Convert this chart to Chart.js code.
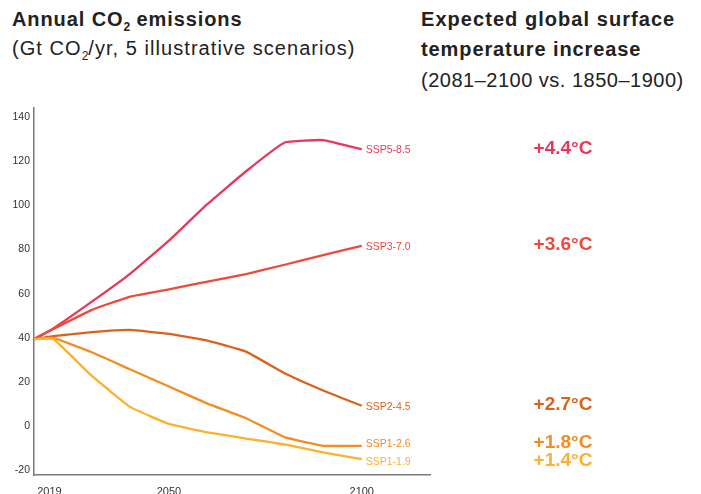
<!DOCTYPE html>
<html>
<head>
<meta charset="utf-8">
<script src="https://cdn.jsdelivr.net/npm/chart.js@4"></script>
<style>
  html, body { margin: 0; padding: 0; background: #fff; }
  body { width: 701px; height: 494px; position: relative; overflow: hidden;
         font-family: 'Liberation Sans', Arial, sans-serif; color: #222; }
  .t { position: absolute; font-size: 20px; line-height: 28px; letter-spacing: 0.9px; white-space: nowrap; }
  .b { font-weight: bold; }
  .t sub { font-size: 12px; line-height: 0; vertical-align: -5px; letter-spacing: 0; }
  #wrap { position: absolute; left: 0; top: 0; width: 701px; height: 494px; }
</style>
</head>
<body>
<div class="t b" style="left:12px; top:5px;">Annual CO<sub>2</sub> emissions</div>
<div class="t" style="left:12px; top:34px; letter-spacing:1.05px;">(Gt CO<sub>2</sub>/yr, 5 illustrative scenarios)</div>
<div class="t b" style="left:421px; top:5px; letter-spacing:1.05px;">Expected global surface</div>
<div class="t b" style="left:421px; top:35px;">temperature increase</div>
<div class="t" style="left:421px; top:66px; letter-spacing:0.5px;">(2081–2100 vs. 1850–1900)</div>
<div id="wrap"><canvas id="chart-co2"></canvas></div>

<script>
// Dades llegides del gràfic (Gt CO2/any)
const years    = [2015, 2020, 2030, 2040, 2050, 2060, 2070, 2080, 2090, 2100];
const ssp119   = [39.5, 39.5, 22.8, 8.7, 1.1, -2.7, -5.5, -8.2, -11.8, -14.8];
const ssp126   = [39.5, 40.0, 33.5, 25.7, 18.0, 10.3, 3.7, -4.9, -8.8, -8.8];
const ssp245   = [39.5, 40.8, 42.6, 43.6, 41.8, 38.8, 33.8, 24.0, 16.2, 9.3];
const ssp370   = [39.5, 44.0, 52.7, 58.7, 62.0, 65.5, 68.9, 73.1, 77.5, 81.6];
const ssp585   = [39.5, 44.3, 56.4, 69.1, 84.0, 100.6, 115.4, 128.4, 129.5, 125.3];

const scenarioNames = ['SSP1-1.9', 'SSP1-2.6', 'SSP2-4.5', 'SSP3-7.0', 'SSP5-8.5'];
const tempLabels    = ['+1.4°C', '+1.8°C', '+2.7°C', '+3.6°C', '+4.4°C'];
const xTickYears    = [2019, 2050, 2100];
const yTickValues   = [-20, 0, 20, 40, 60, 80, 100, 120, 140];

const COLORS = ['#fbb12d', '#f28d22', '#d9631d', '#ee4a3b', '#e8375d'];

const series = [ssp119, ssp126, ssp245, ssp370, ssp585];

// ── Etiquetes al final de cada línia + temperatura ──────────────────────────
const endLabels = {
  id: 'endLabels',
  afterDatasetsDraw(chart) {
    const { ctx } = chart;
    const items = chart.data.datasets.map((ds, i) => {
      const meta = chart.getDatasetMeta(i);
      const pt = meta.data[meta.data.length - 1];
      return { i, x: pt.x, y: pt.y };
    }).sort((a, b) => a.y - b.y);

    // separa etiquetes massa juntes
    const gap = 18;
    for (let k = 1; k < items.length; k++) {
      const d = gap - (items[k].y - items[k - 1].y);
      if (d > 0) { items[k - 1].y -= d / 2; items[k].y += d / 2; }
    }

    ctx.save();
    ctx.textBaseline = 'middle';
    items.forEach(it => {
      ctx.fillStyle = COLORS[it.i];
      ctx.textAlign = 'left';
      ctx.font = "10.5px 'Liberation Sans', Arial, sans-serif";
      ctx.fillText(scenarioNames[it.i], it.x + 4, it.y + 1);
      ctx.textAlign = 'center';
      ctx.font = "bold 19px 'Liberation Sans', Arial, sans-serif";
      ctx.fillText(tempLabels[it.i], 563, it.y - 1);
    });
    ctx.restore();
  }
};

new Chart(document.getElementById('chart-co2'), {
  type: 'line',
  data: {
    datasets: series.map((vals, i) => ({
      label: scenarioNames[i],
      data: years.map((yr, k) => ({ x: yr, y: vals[k] })),
      borderColor: COLORS[i],
      borderWidth: 2.3,
      pointRadius: 0,
      tension: 0.1,
      fill: false,
    }))
  },
  options: {
    responsive: true,
    maintainAspectRatio: false,
    animation: false,
    layout: { padding: { top: 108, right: 271, left: 0, bottom: 0 } },
    plugins: { legend: { display: false }, tooltip: { enabled: false } },
    scales: {
      x: {
        type: 'linear',
        min: 2015,
        max: 2117.7,
        grid: { display: false, drawTicks: false },
        border: { color: '#7a7a7a', width: 1.5 },
        afterBuildTicks: s => { s.ticks = xTickYears.map(v => ({ value: v })); },
        afterFit: s => { s.height = 19; },
        ticks: {
          color: '#333',
          padding: 10,
          maxRotation: 0,
          font: { size: 11, family: "'Liberation Sans', Arial, sans-serif" },
          callback: v => String(v),
        }
      },
      y: {
        min: -22,
        max: 144,
        grid: { display: false, drawTicks: false },
        border: { color: '#7a7a7a', width: 1.5 },
        afterBuildTicks: s => { s.ticks = yTickValues.map(v => ({ value: v })); },
        afterFit: s => { s.width = 34; },
        ticks: {
          color: '#333',
          padding: 4,
          font: { size: 10.5, family: "'Liberation Sans', Arial, sans-serif" },
          callback: v => String(v),
        }
      }
    }
  },
  plugins: [endLabels]
});
</script>
</body>
</html>
